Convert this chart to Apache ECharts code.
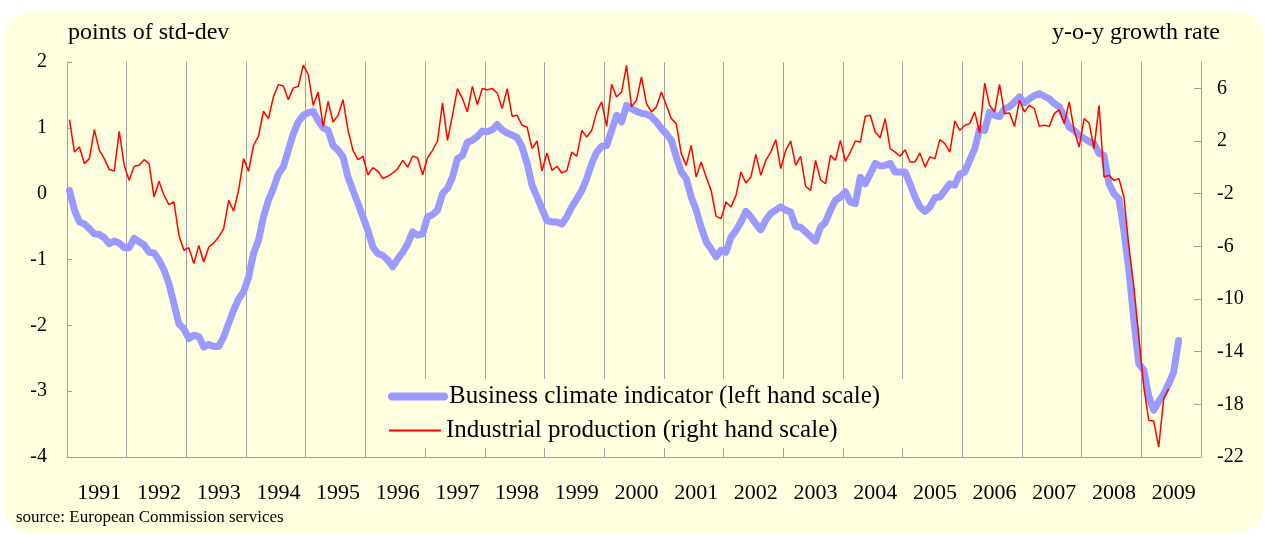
<!DOCTYPE html>
<html><head><meta charset="utf-8">
<script src="https://cdn.jsdelivr.net/npm/echarts@6/dist/echarts.min.js"></script>
<style>html,body{margin:0;padding:0;background:#fff;}#c{width:1268px;height:535px;}</style>
</head><body><div id="c"></div>
<script>
// ---- data ----
const years = [1991,1992,1993,1994,1995,1996,1997,1998,1999,2000,2001,2002,2003,2004,2005,2006,2007,2008,2009];
// Business climate indicator, monthly from Jan 1991 (left scale, points of std-dev)
const businessClimate = [
  0.05,-0.25,-0.43,-0.46,-0.53,-0.61,-0.62,-0.67,-0.76,-0.72,-0.75,-0.82,
  -0.82,-0.68,-0.73,-0.78,-0.89,-0.90,-1.01,-1.16,-1.37,-1.67,-1.98,-2.05,
  -2.20,-2.15,-2.17,-2.33,-2.29,-2.32,-2.32,-2.18,-1.97,-1.77,-1.60,-1.49,
  -1.27,-0.91,-0.71,-0.35,-0.10,0.08,0.30,0.41,0.66,0.91,1.09,1.19,
  1.23,1.25,1.11,1.00,0.96,0.73,0.66,0.56,0.25,0.05,-0.15,-0.35,
  -0.56,-0.81,-0.91,-0.94,-1.01,-1.11,-0.99,-0.89,-0.76,-0.58,-0.63,-0.61,
  -0.35,-0.32,-0.25,0.00,0.08,0.25,0.53,0.58,0.78,0.81,0.87,0.95,
  0.94,0.97,1.05,0.97,0.92,0.89,0.85,0.71,0.46,0.13,-0.05,-0.23,
  -0.41,-0.43,-0.43,-0.46,-0.35,-0.20,-0.08,0.05,0.23,0.46,0.63,0.72,
  0.73,0.96,1.19,1.09,1.34,1.29,1.25,1.22,1.21,1.17,1.09,0.99,
  0.91,0.81,0.56,0.33,0.23,-0.05,-0.25,-0.51,-0.73,-0.84,-0.96,-0.86,
  -0.89,-0.66,-0.56,-0.43,-0.27,-0.35,-0.46,-0.55,-0.40,-0.30,-0.25,-0.20,
  -0.25,-0.28,-0.50,-0.51,-0.58,-0.65,-0.72,-0.51,-0.43,-0.25,-0.10,-0.05,
  0.03,-0.13,-0.15,0.25,0.15,0.30,0.46,0.42,0.43,0.46,0.33,0.33,
  0.33,0.15,-0.05,-0.20,-0.27,-0.20,-0.06,-0.05,0.05,0.15,0.13,0.30,
  0.33,0.51,0.68,0.99,0.96,1.24,1.19,1.17,1.29,1.32,1.39,1.47,
  1.38,1.44,1.49,1.52,1.48,1.44,1.37,1.32,1.17,1.01,0.96,0.89,
  0.84,0.79,0.76,0.61,0.58,0.15,0.00,-0.08,-0.56,-1.16,-1.92,-2.58,
  -2.68,-3.08,-3.29,-3.16,-3.04,-2.89,-2.71,-2.23
];
// Industrial production, y-o-y growth rate, monthly from Jan 1991 (right scale)
const industrialProduction = [
  3.62,1.16,1.54,0.28,0.66,2.86,1.29,0.66,-0.17,-0.28,2.73,0.15,
  -0.99,0.08,0.15,0.58,0.28,-2.25,-1.06,-2.12,-2.83,-2.63,-5.16,-6.30,
  -6.10,-7.31,-5.93,-7.19,-6.05,-5.75,-5.29,-4.66,-2.51,-3.32,-1.75,0.66,
  -0.30,1.67,2.36,4.26,3.70,5.34,6.28,6.18,5.14,6.03,6.15,7.75,
  7.07,4.71,5.72,3.11,5.01,3.44,3.95,5.14,2.81,1.29,0.58,0.84,
  -0.56,-0.03,-0.28,-0.86,-0.68,-0.43,-0.10,0.53,0.02,0.84,0.73,-0.56,
  0.73,1.29,2.00,4.89,2.05,3.95,5.98,5.22,4.21,6.15,4.76,5.98,
  5.90,5.98,5.65,4.46,5.98,3.88,3.95,3.19,3.06,1.42,2.00,-0.28,
  1.09,-0.23,0.08,-0.43,-0.23,1.16,0.84,2.81,2.30,2.81,4.21,4.97,
  3.11,6.30,5.34,5.72,7.75,4.59,5.09,6.86,4.84,4.21,4.59,5.72,
  4.71,3.70,3.32,1.04,0.15,1.67,-0.73,0.41,-0.73,-1.75,-3.72,-3.90,
  -2.63,-3.01,-2.13,-0.35,-1.19,-0.73,0.99,-0.61,0.53,1.16,2.10,-0.10,
  1.29,2.00,0.15,0.84,-1.44,-1.75,0.53,-0.94,-1.25,0.91,0.53,2.05,
  0.46,1.16,2.00,1.92,3.88,3.95,2.68,2.25,3.70,1.42,1.16,0.84,
  1.34,0.41,0.41,1.09,0.02,0.79,0.66,2.10,1.80,1.16,3.52,2.81,
  3.19,3.32,4.21,2.61,6.40,4.71,4.21,6.30,4.08,4.13,3.11,5.09,
  4.21,4.71,4.46,3.11,3.19,3.11,4.08,4.38,3.32,4.97,2.81,1.54,
  3.70,3.37,1.42,4.71,-0.73,-0.61,-0.99,-0.86,-2.25,-6.05,-9.09,-12.89,
  -16.68,-19.22,-19.27,-21.24,-17.57,-16.81
];
const rightAxisTicks = [-22,-18,-14,-10,-6,-2,2,6];
const seriesNames = ['Business climate indicator (left hand scale)', 'Industrial production (right hand scale)'];

// monthly categories
const categories = [];
years.forEach(function (y) {
  for (let m = 1; m <= 12; m++) categories.push(y + '-' + (m < 10 ? '0' : '') + m);
});

const FONT = '"Liberation Serif", "Times New Roman", serif';
const BG = '#FFFFE0';
const GRID_GREY = '#A0A0A0';

const chart = echarts.init(document.getElementById('c'), null, {renderer: 'canvas'});
chart.setOption({
  animation: false,
  backgroundColor: '#ffffff',
  textStyle: {fontFamily: FONT, color: '#000'},
  graphic: [{
    type: 'rect', z: -100, silent: true,
    shape: {x: 4, y: 12, width: 1260, height: 521, r: 26},
    style: {fill: BG}
  }],
  title: [
    {text: 'points of std-dev', left: 68, top: 21, padding: 0,
     textStyle: {fontFamily: FONT, fontSize: 24, fontWeight: 'normal', color: '#000'}},
    {text: 'y-o-y growth rate', right: 48, top: 21, padding: 0,
     textStyle: {fontFamily: FONT, fontSize: 24, fontWeight: 'normal', color: '#000'}},
    {text: 'source: European Commission services', left: 16, top: 509, padding: 0,
     textStyle: {fontFamily: FONT, fontSize: 17, fontWeight: 'normal', color: '#000'}}
  ],
  grid: {left: 67, right: 67, top: 62, bottom: 78, containLabel: false},
  legend: [
    {data: [seriesNames[0]], orient: 'vertical', left: 380, top: 379,
     itemWidth: 52, itemHeight: 8, padding: [5, 30, 5, 8], backgroundColor: BG,
     selectedMode: false, lineStyle: {width: 8, cap: 'round'}, itemStyle: {opacity: 0},
     textStyle: {fontFamily: FONT, fontSize: 25, color: '#000'}},
    {data: [seriesNames[1]], orient: 'vertical', left: 380, top: 413,
     itemWidth: 52, itemHeight: 2, padding: [5, 90, 5, 8], backgroundColor: BG,
     selectedMode: false, lineStyle: {width: 2}, itemStyle: {opacity: 0},
     textStyle: {fontFamily: FONT, fontSize: 25, color: '#000'}}
  ],
  xAxis: {
    type: 'category', data: categories, boundaryGap: true,
    axisLine: {onZero: false, lineStyle: {color: GRID_GREY, width: 1}},
    axisTick: {show: false},
    axisLabel: {
      interval: function (i) { return i % 12 === 6; },
      formatter: function (v) { return v.slice(0, 4); },
      fontFamily: FONT, fontSize: 22, color: '#000', margin: 25
    },
    splitLine: {
      show: true,
      interval: function (i) { return i > 0 && i % 12 === 0; },
      lineStyle: {color: GRID_GREY, width: 1}
    }
  },
  yAxis: [
    {type: 'value', position: 'left', min: -4, max: 2, interval: 1,
     axisLine: {show: true, lineStyle: {color: GRID_GREY}},
     axisTick: {show: true, inside: true, length: 5, lineStyle: {color: GRID_GREY}},
     axisLabel: {fontFamily: FONT, fontSize: 20, color: '#000', margin: 20},
     splitLine: {show: false}},
    {type: 'value', position: 'right', min: -22, max: 8,
     axisLine: {show: true, lineStyle: {color: GRID_GREY}},
     axisTick: {show: true, inside: true, length: 7, customValues: rightAxisTicks, lineStyle: {color: GRID_GREY}},
     axisLabel: {fontFamily: FONT, fontSize: 20, color: '#000', margin: 16, customValues: rightAxisTicks},
     splitLine: {show: false}}
  ],
  series: [
    {name: seriesNames[0], type: 'line', yAxisIndex: 0, data: businessClimate,
     symbol: 'none', z: 2,
     lineStyle: {color: '#9999FF', width: 7, cap: 'round', join: 'round'},
     itemStyle: {color: '#9999FF'}},
    {name: seriesNames[1], type: 'line', yAxisIndex: 1, data: industrialProduction,
     symbol: 'none', z: 3,
     lineStyle: {color: '#FF0000', width: 1.5},
     itemStyle: {color: '#FF0000'}}
  ]
});
</script></body></html>
